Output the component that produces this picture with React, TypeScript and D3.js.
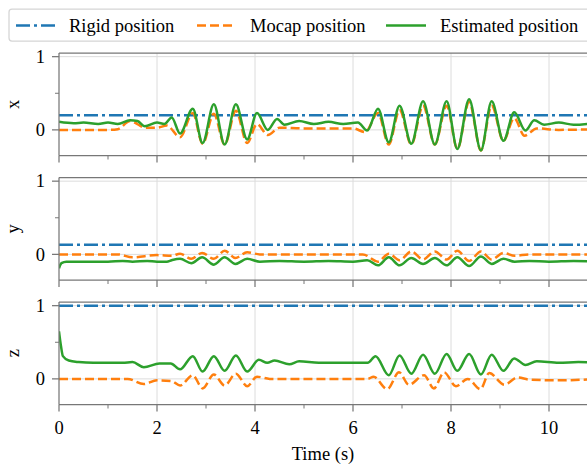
import React, { useEffect, useRef } from 'react'
import * as d3 from 'd3'

// [time (s), value]
const axisNames = ['x', 'y', 'z']
const rigidValues = [0.2, 0.13, 1.0]

const mocapX = [[0,0],[0.5,0],[1.0,0],[1.2,0.01],[1.45,0.12],[1.6,0.08],[1.75,0.03],[2.0,0.03],[2.2,0.06],[2.47,-0.1],[2.73,0.23],[2.93,-0.19],[3.16,0.22],[3.38,-0.2],[3.61,0.26],[3.84,-0.18],[4.04,0.08],[4.26,-0.07],[4.5,0.03],[5,0.02],[6.0,0.02],[6.25,-0.03],[6.51,0.23],[6.73,-0.2],[6.95,0.27],[7.19,-0.2],[7.43,0.33],[7.67,-0.2],[7.91,0.33],[8.13,-0.26],[8.37,0.38],[8.61,-0.28],[8.83,0.33],[9.07,-0.15],[9.29,0.16],[9.5,-0.08],[9.75,0.02],[10.2,0.0],[11,0.01]]
const estX = [[0,0.11],[0.3,0.09],[0.5,0.1],[0.8,0.08],[1.0,0.1],[1.2,0.08],[1.45,0.13],[1.6,0.12],[1.75,0.05],[2.0,0.1],[2.15,0.08],[2.3,0.17],[2.47,-0.05],[2.73,0.29],[2.93,-0.18],[3.16,0.35],[3.38,-0.2],[3.61,0.35],[3.84,-0.13],[4.04,0.23],[4.26,0.0],[4.45,0.15],[4.6,0.07],[4.9,0.12],[5.2,0.08],[5.5,0.11],[5.8,0.08],[6.1,0.1],[6.29,-0.01],[6.51,0.29],[6.73,-0.17],[6.95,0.33],[7.19,-0.19],[7.43,0.39],[7.67,-0.2],[7.91,0.39],[8.13,-0.26],[8.37,0.42],[8.61,-0.28],[8.83,0.39],[9.07,-0.15],[9.29,0.24],[9.52,-0.01],[9.7,0.13],[9.9,0.07],[10.2,0.1],[10.5,0.07],[11,0.1]]

const mocapY = [[0,0],[1.2,0],[1.5,-0.04],[2.0,-0.01],[2.3,-0.02],[2.47,0.01],[2.7,-0.06],[2.92,0.02],[3.16,-0.06],[3.38,0.05],[3.6,-0.05],[3.84,0.03],[4.1,0.0],[6.2,0.0],[6.51,-0.1],[6.73,0.01],[6.95,-0.08],[7.19,0.04],[7.43,-0.07],[7.67,0.04],[7.91,-0.07],[8.13,0.05],[8.37,-0.09],[8.61,0.04],[8.83,-0.07],[9.07,0.02],[9.3,-0.02],[9.6,0.0],[11,0]]
const estY = [[0,-0.19],[0.05,-0.12],[0.15,-0.1],[0.5,-0.1],[1.0,-0.1],[1.3,-0.09],[1.5,-0.1],[1.8,-0.09],[2.0,-0.1],[2.2,-0.1],[2.3,-0.08],[2.47,-0.06],[2.7,-0.12],[2.92,-0.04],[3.16,-0.14],[3.38,-0.04],[3.6,-0.13],[3.84,-0.06],[4.1,-0.1],[4.5,-0.09],[5,-0.1],[5.5,-0.09],[6.0,-0.1],[6.29,-0.08],[6.51,-0.15],[6.73,-0.04],[6.95,-0.15],[7.19,-0.05],[7.43,-0.13],[7.67,-0.05],[7.91,-0.15],[8.13,-0.04],[8.37,-0.16],[8.61,-0.03],[8.83,-0.13],[9.07,-0.06],[9.3,-0.1],[9.6,-0.09],[10,-0.1],[10.5,-0.09],[11,-0.1]]

const mocapZ = [[0,0],[0.5,0],[1.0,0],[1.4,0.0],[1.73,-0.07],[2.0,-0.02],[2.3,-0.03],[2.47,-0.09],[2.73,0.05],[2.93,-0.13],[3.16,0.06],[3.38,-0.09],[3.61,0.07],[3.84,-0.1],[4.04,0.03],[4.3,0.0],[6.3,0.0],[6.42,0.03],[6.7,-0.14],[6.94,0.09],[7.14,-0.08],[7.45,0.05],[7.65,-0.13],[7.86,0.09],[8.1,-0.1],[8.34,0.0],[8.6,-0.14],[8.78,0.08],[9.09,-0.08],[9.36,0.02],[9.6,-0.01],[10.2,-0.02],[11,0]]
const estZ = [[0,0.65],[0.04,0.45],[0.08,0.31],[0.2,0.25],[0.4,0.23],[0.7,0.22],[1.0,0.22],[1.3,0.22],[1.5,0.23],[1.73,0.16],[2.05,0.21],[2.28,0.21],[2.47,0.13],[2.73,0.31],[2.93,0.1],[3.16,0.31],[3.38,0.11],[3.61,0.32],[3.84,0.1],[4.08,0.26],[4.25,0.22],[4.4,0.25],[4.7,0.2],[4.9,0.24],[5.3,0.22],[5.8,0.22],[6.3,0.22],[6.46,0.31],[6.73,0.05],[6.95,0.32],[7.19,0.07],[7.43,0.33],[7.67,0.07],[7.91,0.34],[8.13,0.11],[8.37,0.34],[8.61,0.06],[8.83,0.33],[9.07,0.11],[9.29,0.28],[9.52,0.19],[9.75,0.24],[10.2,0.22],[10.6,0.23],[11,0.22]]

const mocapSeries = [mocapX, mocapY, mocapZ]
const estSeries = [estX, estY, estZ]
const legendLabels = ['Rigid position', 'Mocap position', 'Estimated position']
const xTicks = [0, 2, 4, 6, 8, 10]
const xMinorTicks = [1, 3, 5, 7, 9]

const W = 587
const H = 464
const FONT = '"Liberation Serif", "Times New Roman", serif'
const BLUE = '#1f77b4'
const ORANGE = '#ff7f0e'
const GREEN = '#2ca02c'
const SPINE = '#777'

export default function App () {
    const ref = useRef<SVGSVGElement>(null)

    useEffect(() => {
        const svg = d3.select(ref.current)
        svg.selectAll('*').remove()

        const x = d3.scaleLinear().domain([0, 11]).range([59, 598])
        const tops = [53, 177.5, 302]
        const ph = 102.5

        const line = d3.line<number[]>().curve(d3.curveMonotoneX)

        tops.forEach((top, i) => {
            const y = d3.scaleLinear().domain([-0.35, 1.05]).range([top + ph, top])
            const g = svg.append('g')
            const clipId = `clip-${i}`
            svg.append('clipPath').attr('id', clipId)
                .append('rect').attr('x', 59).attr('y', top).attr('width', 600).attr('height', ph)

            // grid
            g.selectAll('.vg').data(xTicks.slice(1)).join('line')
                .attr('x1', d => x(d)).attr('x2', d => x(d))
                .attr('y1', top).attr('y2', top + ph)
                .attr('stroke', '#dcdcdc').attr('stroke-width', 1)
            g.selectAll('.hg').data([0, 1]).join('line')
                .attr('x1', 59).attr('x2', W)
                .attr('y1', d => y(d)).attr('y2', d => y(d))
                .attr('stroke', '#dcdcdc').attr('stroke-width', 1)

            const lines = g.append('g').attr('clip-path', `url(#${clipId})`)
            lines.append('path')
                .attr('d', line([[0, rigidValues[i]], [11, rigidValues[i]]].map(d => [x(d[0]), y(d[1])]) as any))
                .attr('fill', 'none').attr('stroke', BLUE).attr('stroke-width', 2.5)
                .attr('stroke-dasharray', '14,4,3,4')
            lines.append('path')
                .attr('d', line(mocapSeries[i].map(d => [x(d[0]), y(d[1])]) as any))
                .attr('fill', 'none').attr('stroke', ORANGE).attr('stroke-width', 2.5)
                .attr('stroke-dasharray', '9,4')
            lines.append('path')
                .attr('d', line(estSeries[i].map(d => [x(d[0]), y(d[1])]) as any))
                .attr('fill', 'none').attr('stroke', GREEN).attr('stroke-width', 2.5)

            // spines
            g.append('line').attr('x1', 59).attr('x2', W).attr('y1', top).attr('y2', top)
                .attr('stroke', SPINE).attr('stroke-width', 1.25)
            g.append('line').attr('x1', 59).attr('x2', W).attr('y1', top + ph).attr('y2', top + ph)
                .attr('stroke', SPINE).attr('stroke-width', 1.25)
            g.append('line').attr('x1', 59).attr('x2', 59).attr('y1', top).attr('y2', top + ph)
                .attr('stroke', SPINE).attr('stroke-width', 1.25)

            // x ticks
            g.selectAll('.xt').data(xTicks).join('line')
                .attr('x1', d => x(d)).attr('x2', d => x(d))
                .attr('y1', top + ph).attr('y2', top + ph + 7)
                .attr('stroke', SPINE).attr('stroke-width', 1.25)
            g.selectAll('.xm').data(xMinorTicks).join('line')
                .attr('x1', d => x(d)).attr('x2', d => x(d))
                .attr('y1', top + ph).attr('y2', top + ph + 4)
                .attr('stroke', SPINE).attr('stroke-width', 1)

            // y ticks
            g.selectAll('.yt').data([0, 1]).join('line')
                .attr('x1', 52).attr('x2', 59)
                .attr('y1', d => y(d)).attr('y2', d => y(d))
                .attr('stroke', SPINE).attr('stroke-width', 1.25)
            g.append('line').attr('x1', 55).attr('x2', 59)
                .attr('y1', y(0.5)).attr('y2', y(0.5))
                .attr('stroke', SPINE).attr('stroke-width', 1)
            g.selectAll('.yl').data([0, 1]).join('text')
                .attr('x', 45).attr('y', d => y(d))
                .attr('dy', '0.34em')
                .attr('text-anchor', 'end')
                .attr('font-family', FONT).attr('font-size', 18.5)
                .text(d => d)

            g.append('text')
                .attr('transform', `translate(19,${top + ph / 2}) rotate(-90)`)
                .attr('text-anchor', 'middle')
                .attr('font-family', FONT).attr('font-size', 18.5)
                .text(axisNames[i])

            if (i === 2) {
                g.selectAll('.xl').data(xTicks).join('text')
                    .attr('x', d => x(d)).attr('y', top + ph + 29)
                    .attr('text-anchor', 'middle')
                    .attr('font-family', FONT).attr('font-size', 18.5)
                    .text(d => d)
                g.append('text')
                    .attr('x', 323).attr('y', 460)
                    .attr('text-anchor', 'middle')
                    .attr('font-family', FONT).attr('font-size', 18.5)
                    .text('Time (s)')
            }
        })

        // legend
        const lg = svg.append('g')
        lg.append('rect')
            .attr('x', 9).attr('y', 9).attr('width', 600).attr('height', 32)
            .attr('rx', 3).attr('fill', 'white').attr('stroke', '#d5d5d5').attr('stroke-width', 1.25)
        const items = [
            { x1: 16, x2: 55, tx: 69, color: BLUE, dash: '14,4,3,4' },
            { x1: 197, x2: 235, tx: 250, color: ORANGE, dash: '9,4' },
            { x1: 386, x2: 426, tx: 440, color: GREEN, dash: null }
        ]
        items.forEach((it, k) => {
            lg.append('line')
                .attr('x1', it.x1).attr('x2', it.x2).attr('y1', 25.5).attr('y2', 25.5)
                .attr('stroke', it.color).attr('stroke-width', 2.5)
                .attr('stroke-dasharray', it.dash)
            lg.append('text')
                .attr('x', it.tx).attr('y', 25.5).attr('dy', '0.34em')
                .attr('font-family', FONT).attr('font-size', 18.5)
                .text(legendLabels[k])
        })
    }, [])

    return (
        <svg ref={ref} width={W} height={H}
            style={{ position: 'absolute', left: 0, top: 0, background: 'white' }} />
    )
}
